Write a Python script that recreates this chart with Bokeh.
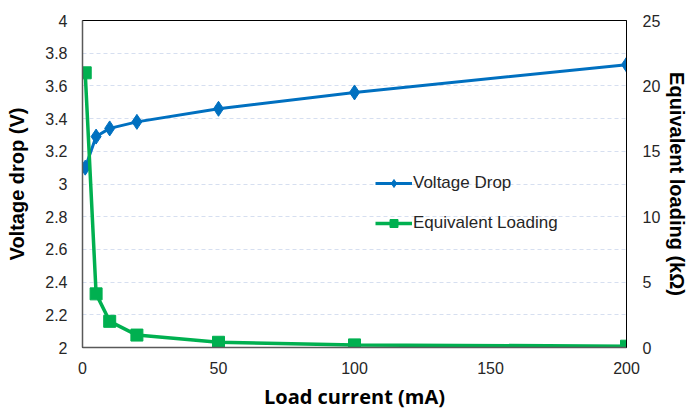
from bokeh.plotting import figure
from bokeh.models import (Range1d, LinearAxis, FixedTicker, CustomJSTickFormatter,
                          Legend, LegendItem)
from bokeh.embed import file_html
from bokeh.resources import INLINE

# Data
load_current = [1, 5, 10, 20, 50, 100, 200]
voltage_drop = [3.10, 3.29, 3.34, 3.38, 3.46, 3.56, 3.73]
equiv_loading = [21.0, 4.1, 2.0, 0.95, 0.4, 0.2, 0.1]
x_ticks = [0, 50, 100, 150, 200]
y_ticks = [2.0, 2.2, 2.4, 2.6, 2.8, 3.0, 3.2, 3.4, 3.6, 3.8, 4.0]
y2_ticks = [0, 5, 10, 15, 20, 25]

BLUE = "#0070c0"
GREEN = "#00b050"
TICK_FONT = "Liberation Sans"

p = figure(width=691, height=412, output_backend="svg", toolbar_location=None,
           x_range=Range1d(0, 200), y_range=Range1d(2, 4),
           min_border_left=82, min_border_right=65, min_border_top=20,
           min_border_bottom=65)
p.extra_y_ranges = {"r": Range1d(0, 25)}

p.outline_line_color = "black"
p.outline_line_width = 1
p.background_fill_color = "white"
p.border_fill_color = "white"


def style_axis(ax, line_color, line_width):
    ax.major_tick_line_color = None
    ax.minor_tick_line_color = None
    ax.major_tick_out = 0
    ax.major_tick_in = 0
    ax.minor_tick_out = 0
    ax.minor_tick_in = 0
    ax.axis_line_color = line_color
    ax.axis_line_width = line_width
    ax.major_label_text_font = TICK_FONT
    ax.major_label_text_font_size = "16px"
    ax.major_label_text_color = "#262626"
    ax.axis_label_text_font_style = "bold"
    ax.axis_label_text_color = "black"
    ax.axis_label_text_font_size = "20px"


style_axis(p.xaxis[0], "#595959", 1.5)
style_axis(p.yaxis[0], "#595959", 1.5)

p.xaxis.ticker = FixedTicker(ticks=x_ticks)
p.xaxis.major_label_standoff = 14
p.xaxis.axis_label = "Load current (mA)"
p.xaxis.axis_label_text_font = "Open Sans"
p.xaxis.axis_label_standoff = 6

p.yaxis.ticker = FixedTicker(ticks=y_ticks)
p.yaxis.formatter = CustomJSTickFormatter(code="return String(Math.round(tick*10)/10);")
p.yaxis.major_label_standoff = 15
p.yaxis.axis_label = "Voltage drop (V)"
p.yaxis.axis_label_text_font = "Liberation Sans"
p.yaxis.axis_label_standoff = 14

ax2 = LinearAxis(y_range_name="r", ticker=FixedTicker(ticks=y2_ticks),
                 axis_label="Equivalent loading (kΩ)")
style_axis(ax2, "black", 1)
ax2.major_label_standoff = 16
ax2.axis_label_text_font = "Liberation Sans"
ax2.axis_label_standoff = 3
p.add_layout(ax2, "right")

p.xgrid.grid_line_color = None
p.ygrid.grid_line_color = "#d6dff0"
p.ygrid.grid_line_dash = "4 3"
p.ygrid.grid_line_width = 1

l1 = p.line(load_current, voltage_drop, line_color=BLUE, line_width=3)
s1 = p.scatter(load_current, voltage_drop, marker="diamond", size=15,
               fill_color=BLUE, line_color=BLUE)
l2 = p.line(load_current, equiv_loading, y_range_name="r", line_color=GREEN, line_width=3.5)
s2 = p.scatter(load_current, equiv_loading, y_range_name="r", marker="square", size=12,
               fill_color=GREEN, line_color=GREEN)

legend = Legend(items=[LegendItem(label="Voltage Drop", renderers=[l1, s1]),
                       LegendItem(label="Equivalent Loading", renderers=[l2, s2])],
                location=(293, 114), padding=0, margin=0, spacing=20,
                glyph_width=37, glyph_height=20, label_height=20, label_standoff=1,
                label_text_font=TICK_FONT, label_text_font_size="17px",
                label_text_color="#262626",
                border_line_color=None, background_fill_alpha=0)
p.add_layout(legend, "center")

open("out.html", "w").write(file_html(p, INLINE))
